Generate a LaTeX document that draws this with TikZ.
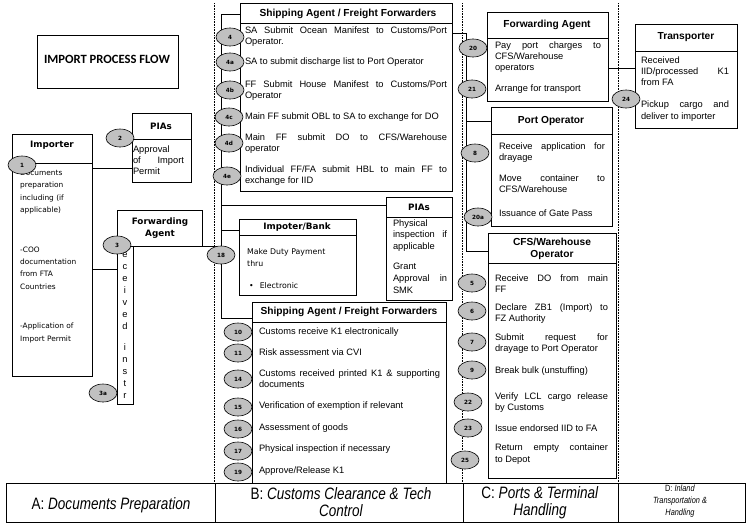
\documentclass[tikz,border=0pt]{standalone}
\usepackage{fontspec}
\setmainfont{Liberation Sans}
\newfontfamily\tahfont{DejaVu Sans}
\newfontfamily\calfont{Carlito}
\newfontfamily\narrowfont[FakeStretch=0.82]{Liberation Sans}
\usetikzlibrary{shapes.geometric}
\definecolor{ellfill}{RGB}{192,192,192}
\newcommand\Jw[2]{\makebox[#1][s]{#2}}
\begin{document}
\begin{tikzpicture}[x=1pt,y=-1pt,
  boxn/.style={draw, line width=0.8pt, anchor=north west, inner sep=0, outer sep=0},
  body/.style={anchor=west, inner sep=0, outer sep=0, align=left, font=\fontsize{9.3}{11}\selectfont},
  hdr/.style={inner sep=0, align=center, font=\bfseries\fontsize{10.2}{12}\selectfont},
  thdr/.style={inner sep=0, align=center, font=\tahfont\bfseries\fontsize{8.8}{11.5}\selectfont},
  tbody/.style={anchor=west, inner sep=0, align=left, font=\tahfont\fontsize{7.4}{12.3}\selectfont},
  num/.style={ellipse, draw, fill=ellfill, line width=0.6pt, minimum width=28pt, minimum height=18pt, inner sep=0, font=\tahfont\bfseries\fontsize{5.7}{6}\selectfont},
  conn/.style={line width=0.8pt},
  dotl/.style={line width=0.6pt, dash pattern=on 0.6pt off 1pt},
  bar/.style={font=\narrowfont\fontsize{16.5}{17}\selectfont, align=center, inner sep=0}]
\useasboundingbox (0,0) rectangle (751,530);
\fill[white] (0,0) rectangle (751,530);

% dotted lane separators
\draw[dotl] (214,3) -- (214,483);
\draw[dotl] (462,3) -- (462,483);
\draw[dotl] (618,3) -- (618,483);

% boxes
\node[boxn, minimum width=141pt, minimum height=53pt] (title) at (37,35) {};
\node[boxn, minimum width=80pt, minimum height=242pt] (imp) at (12,134) {};
\node[boxn, minimum width=59pt, minimum height=69pt] (pial) at (132,113) {};
\node[boxn, minimum width=85pt, minimum height=36pt] (fal) at (117,210) {};
\node[boxn, minimum width=16pt, minimum height=158pt] (fan) at (117,246) {};
\node[boxn, minimum width=212pt, minimum height=188pt] (sat) at (240,3) {};
\node[boxn, minimum width=117pt, minimum height=76pt] (bank) at (239,219) {};
\node[boxn, minimum width=66pt, minimum height=103pt] (piam) at (386,197) {};
\node[boxn, minimum width=194pt, minimum height=181pt] (sab) at (252,302) {};
\node[boxn, minimum width=121pt, minimum height=89pt] (far) at (487,12) {};
\node[boxn, minimum width=121pt, minimum height=119pt] (port) at (491,107) {};
\node[boxn, minimum width=128pt, minimum height=245pt] (cfs) at (488,233) {};
\node[boxn, minimum width=102pt, minimum height=104pt] (trans) at (635,24) {};

% header dividers
\foreach \b/\d in {imp/29, pial/26, sat/20, bank/16, piam/20, sab/20, far/26, port/27, cfs/30, trans/27}
  \draw[conn] ([yshift=-\d pt]\b.north west) -- ([yshift=-\d pt]\b.north east);

% bottom bar
\node[boxn, minimum width=739pt, minimum height=39pt] (barbox) at (6,483) {};
\draw[conn] (215,483) -- (215,522);
\draw[conn] (463,483) -- (463,522);
\draw[conn] (618,483) -- (618,522);

% connectors
\coordinate (jL) at (221,14);
\coordinate (jLb) at (221,318);
\draw[conn] (sat.west |- jL) -- (jL) -- (jLb) -- (sab.west |- jLb);
\coordinate (jP) at (221,205);
\draw[conn] (jP) -- (piam.west |- jP);
\coordinate (jB) at (221,230);
\draw[conn] (jB) -- (bank.west |- jB);
\draw[conn] (fal.south east) -- (fal.south east -| jL);
\coordinate (i1) at (92,168);
\draw[conn] (imp.east |- i1) -- (pial.west |- i1);
\coordinate (i2) at (92,269);
\draw[conn] (imp.east |- i2) -- (fan.west |- i2);
\coordinate (jR) at (466,33);
\coordinate (jRb) at (466,251);
\draw[conn] (sat.east |- jR) -- (jR) -- (jRb) -- (cfs.west |- jRb);
\coordinate (jPo) at (466,121);
\draw[conn] (jPo) -- (port.west |- jPo);
\coordinate (jT) at (620,68);
\draw[conn] (far.east |- jT) -- (trans.west |- jT);

% title
\node[font=\calfont\bfseries\fontsize{12.6}{14}\selectfont, inner sep=0] (ttl) at (107,59) {IMPORT PROCESS FLOW};

% headers
\node[thdr] (himp) at (52,145) {Importer};
\node[thdr] (hpial) at (161,126) {PIAs};
\node[thdr] (hfal) at (160,228) {Forwarding\\Agent};
\node[hdr] (hsat) at (348,13.5) {Shipping Agent / Freight Forwarders};
\node[thdr] (hbank) at (297,227.5) {Impoter/Bank};
\node[thdr] (hpiam) at (419,207) {PIAs};
\node[hdr] (hsab) at (349,312) {Shipping Agent / Freight Forwarders};
\node[hdr] (hfar) at (547,25) {Forwarding Agent};
\node[hdr] (hport) at (551,121) {Port Operator};
\node[hdr] (hcfs) at (552,249) {CFS/Warehouse\\Operator};
\node[hdr] (htrans) at (686,37.5) {Transporter};

% importer texts
\node[tbody] (b1) at (20,192) {Documents\\preparation\\including (if\\applicable)};
\node[tbody] (b1b) at (20,268) {-COO\\documentation\\from FTA\\Countries};
\node[tbody] (b1c) at (20,333) {-Application of\\Import Permit};

% PIAs left
\node[body] (b2) at (133,160) {Approval\\\Jw{51pt}{of Import}\\Permit};

% forwarding agent vertical text
\node[body, anchor=north, align=center, font=\fontsize{9.3}{12}\selectfont] (b3) at (125,239.5) {R\\e\\c\\e\\i\\v\\e\\d\\[9pt]i\\n\\s\\t\\r};

% shipping agent top
\node[body] (b4) at (245,36.5) {\Jw{202pt}{SA Submit Ocean Manifest to Customs/Port}\\Operator.};
\node[body] (b4a) at (245,62) {SA to submit discharge list to Port Operator};
\node[body] (b4b) at (245,90.5) {\Jw{202pt}{FF Submit House Manifest to Customs/Port}\\Operator};
\node[body] (b4c) at (245,117.5) {Main FF submit OBL to SA to exchange for DO};
\node[body] (b4d) at (245,143.5) {\Jw{202pt}{Main FF submit DO to CFS/Warehouse}\\operator};
\node[body] (b4e) at (245,175.5) {\Jw{202pt}{Individual FF/FA submit HBL to main FF to}\\exchange for IID};

% bank
\node[tbody, font=\tahfont\fontsize{7.8}{11.5}\selectfont] (b18) at (247,257.5) {Make Duty Payment\\thru};
\node[tbody, font=\tahfont\fontsize{7.8}{11.5}\selectfont] (b18b) at (249,286) {\textbullet\hspace{6pt}Electronic};

% PIAs middle
\node[body, font=\fontsize{9.3}{11.8}\selectfont] (bpm1) at (393,235.5) {Physical\\\Jw{54pt}{inspection if}\\applicable};
\node[body, font=\fontsize{9.3}{11.8}\selectfont] (bpm2) at (393,278) {Grant\\\Jw{54pt}{Approval in}\\SMK};

% shipping agent bottom
\node[body] (b10) at (259,332) {Customs receive K1 electronically};
\node[body] (b11) at (259,352) {Risk assessment via CVI};
\node[body] (b14) at (259,378.5) {\Jw{181pt}{Customs received printed K1 \& supporting}\\documents};
\node[body] (b15) at (259,406) {Verification of exemption if relevant};
\node[body] (b16) at (259,428) {Assessment of goods};
\node[body] (b17) at (259,449) {Physical inspection if necessary};
\node[body] (b19) at (259,471) {Approve/Release K1};

% forwarding agent right
\node[body] (b20) at (495,57.5) {\Jw{106pt}{Pay port charges to}\\CFS/Warehouse\\operators};
\node[body] (b21) at (495,89) {Arrange for transport};

% port operator
\node[body] (b8) at (499,152.5) {\Jw{106pt}{Receive application for}\\drayage};
\node[body] (b8b) at (499,184) {\Jw{106pt}{Move container to}\\CFS/Warehouse};
\node[body] (b20a) at (499,213) {Issuance of Gate Pass};

% CFS
\node[body] (b5) at (495,284) {\Jw{113pt}{Receive DO from main}\\FF};
\node[body] (b6) at (495,314) {\Jw{113pt}{Declare ZB1 (Import) to}\\FZ Authority};
\node[body] (b7) at (495,344) {\Jw{113pt}{Submit request for}\\drayage to Port Operator};
\node[body] (b9) at (495,371) {Break bulk (unstuffing)};
\node[body] (b22) at (495,403) {\Jw{113pt}{Verify LCL cargo release}\\by Customs};
\node[body] (b23) at (495,428) {Issue endorsed IID to FA};
\node[body, font=\fontsize{9.3}{12}\selectfont] (b25) at (495,454) {\Jw{113pt}{Return empty container}\\to Depot};

% transporter
\node[body] (btr1) at (641,71.5) {Received\\\Jw{88pt}{IID/processed K1}\\from FA};
\node[body, font=\fontsize{9.3}{12}\selectfont] (btr2) at (641,111) {\Jw{88pt}{Pickup cargo and}\\deliver to importer};

% bar texts
\node[bar] (bA) at (111,505) {A: \textit{Documents Preparation}};
\node[bar] (bB) at (341,502.5) {B: \textit{Customs Clearance \& Tech}\\\textit{Control}};
\node[bar] (bC) at (540,502.5) {C: \textit{Ports \& Terminal}\\\textit{Handling}};
\node[bar, font=\narrowfont\fontsize{9}{12}\selectfont] (bD) at (680,501) {D: \textit{Inland}\\\textit{Transportation \&}\\\textit{Handling}};

% step ellipses
\node[num] (e1) at (22,165) {1};
\node[num] (e2) at (120,138) {2};
\node[num] (e3) at (117,245) {3};
\node[num] (e3a) at (103,393) {3a};
\node[num] (e4) at (230,37) {4};
\node[num] (e4a) at (230,62) {4a};
\node[num] (e4b) at (230,90) {4b};
\node[num] (e4c) at (229,117) {4c};
\node[num] (e4d) at (229,143) {4d};
\node[num] (e4e) at (227,176) {4e};
\node[num] (e18) at (221,255) {18};
\node[num] (e10) at (238,332) {10};
\node[num] (e11) at (238,353) {11};
\node[num] (e14) at (238,379) {14};
\node[num] (e15) at (238,407) {15};
\node[num] (e16) at (238,429) {16};
\node[num] (e17) at (238,451) {17};
\node[num] (e19) at (238,472) {19};
\node[num] (e20) at (473,48) {20};
\node[num] (e21) at (472,89) {21};
\node[num] (e8) at (475,153) {8};
\node[num] (e20a) at (478,217) {20a};
\node[num] (e5) at (472,283) {5};
\node[num] (e6) at (472,311) {6};
\node[num] (e7) at (472,342) {7};
\node[num] (e9) at (472,370) {9};
\node[num] (e22) at (468,402) {22};
\node[num] (e23) at (468,428) {23};
\node[num] (e25) at (465,460) {25};
\node[num] (e24) at (626,99) {24};
\end{tikzpicture}
\end{document}
